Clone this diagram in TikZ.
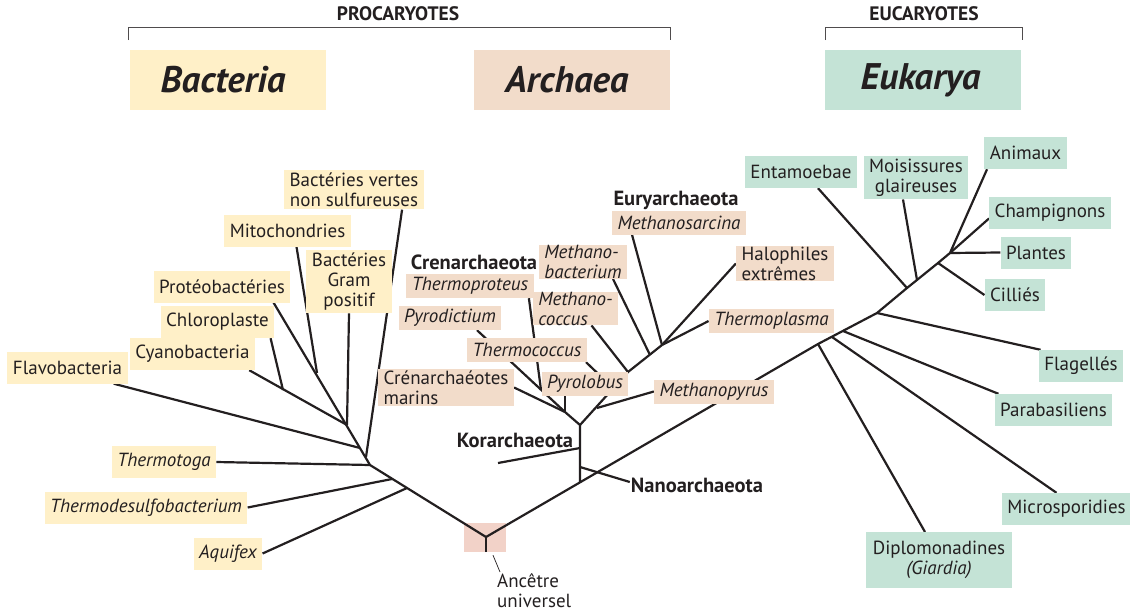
\documentclass[tikz,border=0pt]{standalone}
\usepackage{fontspec}
\setmainfont{PT Sans}
\usetikzlibrary{calc}

\definecolor{bacfill}{HTML}{FFF0C8}
\definecolor{arcfill}{HTML}{F2DCCA}
\definecolor{eukfill}{HTML}{C4E3D6}
\definecolor{ancfill}{HTML}{F2D2C8}
\definecolor{linecol}{HTML}{231F20}

\pgfdeclarelayer{back}
\pgfdeclarelayer{lines}
\pgfsetlayers{back,lines,main}

\begin{document}
\begin{tikzpicture}[x=1pt,y=-1pt,
	font=\fontsize{19}{20}\selectfont,
	trunk/.style={draw=linecol, line width=2.2pt},
	leaf/.style={inner xsep=5.5pt, inner ysep=3pt, minimum height=32pt, text=linecol},
	bac/.style={leaf, fill=bacfill},
	arc/.style={leaf, fill=arcfill, inner ysep=1.5pt, minimum height=24pt},
	euk/.style={leaf, fill=eukfill},
	phylum/.style={text=linecol, inner sep=1pt, font=\fontsize{20.5}{22}\selectfont\bfseries},
	domainbox/.style={minimum width=196pt, minimum height=60pt, text=linecol,
		font=\fontsize{37}{42}\selectfont\bfseries\itshape},
	]
	\useasboundingbox (0,0) rectangle (1130,613);
	
	% 1. 顶部：三个域与括号
	\node[phylum, font=\fontsize{19.5}{21}\selectfont\bfseries] (procar) at (398,14) {PROCARYOTES};
	\node[phylum, font=\fontsize{19.5}{21}\selectfont\bfseries] (eucar) at (924,14) {EUCARYOTES};
	\draw[draw=linecol!80, line width=1pt] (128,40) |- (670,27) -- (670,40);
	\draw[draw=linecol!80, line width=1pt] (825,40) |- (1022,27) -- (1022,40);
	\node[domainbox, fill=bacfill] (bac) at (228,80) {Bacteria\hspace*{10pt}};
	\node[domainbox, fill=arcfill] (arc) at (572,80) {Archaea\hspace*{10pt}};
	\node[domainbox, fill=eukfill] (euk) at (923,80) {Eukarya\hspace*{5pt}};
	
	% 2. 共同祖先
	\coordinate (R) at (486,537);
	\begin{pgfonlayer}{back}
		\node[fill=ancfill, minimum width=42pt, minimum height=29pt] (ancetre) at (485,537.5) {};
	\end{pgfonlayer}
	\node[anchor=north west, align=left, inner sep=1pt, text=linecol] (anctext) at (496,572) {Ancêtre\\universel};
	
	% 3. 细菌的叶子
	\node[bac, align=center] (vertes) at (354,189.5) {Bactéries vertes\\non sulfureuses};
	\node[bac] (mito) at (287.5,230.5) {Mitochondries};
	\node[bac, align=center] (gram) at (349,281.5) {Bactéries\\Gram\\positif};
	\node[bac] (proteo) at (222,286.5) {Protéobactéries};
	\node[bac] (chloro) at (217.5,322) {Chloroplaste};
	\node[bac] (cyano) at (192.5,354) {Cyanobacteria};
	\node[bac] (flavo) at (67.5,367.5) {Flavobacteria};
	\node[bac] (thermotoga) at (164,462) {\itshape Thermotoga};
	\node[bac] (thdesulfo) at (146,507.5) {\itshape Thermodesulfobacterium};
	\node[bac] (aquifex) at (228,553.5) {\itshape Aquifex};
	
	% 4. 古菌的叶子
	\node[phylum] (cren) at (474,262) {Crenarchaeota};
	\node[phylum] (eury) at (676,200) {Euryarchaeota};
	\node[phylum] (kor) at (515,440) {Korarchaeota};
	\node[phylum] (nano) at (697,485) {Nanoarchaeota};
	\node[arc] (thermoproteus) at (470,286) {\itshape Thermoproteus};
	\node[arc] (pyrodictium) at (450,318) {\itshape Pyrodictium};
	\node[arc] (thermococcus) at (527,350) {\itshape Thermococcus};
	\node[arc, align=left] (marins) at (446,387.5) {Crénarchaéotes\\marins};
	\node[arc] (pyrolobus) at (585,383.5) {\itshape Pyrolobus};
	\node[arc, align=left, inner ysep=0pt, font=\fontsize{19}{20}\selectfont\itshape] (methcocc) at (575.5,308.5) {Methano-\\coccus};
	\node[arc, align=left, inner ysep=0pt, font=\fontsize{19}{20}\selectfont\itshape] (methbact) at (583,262) {Methano-\\bacterium};
	\node[arc] (methsarc) at (679,222.5) {\itshape Methanosarcina};
	\node[arc, align=left, inner ysep=1pt] (halo) at (785,263.5) {Halophiles\\extrêmes};
	\node[arc] (thplasma) at (771.5,321) {\itshape Thermoplasma};
	\node[arc] (methpyr) at (714,391.5) {\itshape Methanopyrus};
	
	% 5. 真核生物的叶子
	\node[euk] (entam) at (801,172) {Entamoebae};
	\node[euk, align=center] (moisi) at (916,177.5) {Moisissures\\glaireuses};
	\node[euk] (animaux) at (1025.5,153) {Animaux};
	\node[euk] (champ) at (1050,212.5) {Champignons};
	\node[euk] (plantes) at (1036,252.5) {Plantes};
	\node[euk] (cilies) at (1015,295) {Cilliés};
	\node[euk] (flag) at (1081,366) {Flagellés};
	\node[euk] (parab) at (1053.5,410) {Parabasiliens};
	\node[euk] (micro) at (1066.5,509) {Microsporidies};
	\node[euk, align=center, inner ysep=9pt, inner xsep=6.5pt] (diplo) at (939,560) {Diplomonadines\\{\itshape (Giardia)}};
	
	% 6. 分叉点
	\coordinate (b1) at (407,488);
	\coordinate (b2) at (392,479);
	\coordinate (J1) at (370,465);
	\coordinate (bv) at (366,457);
	\coordinate (J2) at (360,448);
	\coordinate (J3) at (347,425);
	\coordinate (bc) at (283,390);
	\coordinate (J4) at (317,373);
	\coordinate (A0) at (580,482);
	\coordinate (A1) at (580,425);
	\coordinate (K1) at (580,448);
	\coordinate (kor-e) at (498,463);
	\coordinate (N1) at (580,467);
	\coordinate (C1) at (565,412);
	\coordinate (T1) at (541,390);
	\coordinate (M1) at (597,408);
	\coordinate (TC) at (613,388);
	\coordinate (Y0) at (628,372);
	\coordinate (Y1) at (650,355);
	\coordinate (Y2) at (662,345);
	\coordinate (E1) at (818,344);
	\coordinate (E2) at (832,337);
	\coordinate (E3) at (843,331);
	\coordinate (E4) at (877,313);
	\coordinate (E5) at (907,288);
	\coordinate (E6) at (917,280);
	\coordinate (E7) at (938,263);
	\coordinate (E8) at (950,253);
	
	% 7. 连线（放在叶子下面）
	\begin{pgfonlayer}{lines}
		% 细菌
		\draw[trunk] (R) -- (J1) -- ([xshift=-17pt]proteo.south east);
		\draw[trunk] (b1) -- (aquifex.east);
		\draw[trunk] (b2) -- (thdesulfo.east);
		\draw[trunk] (J1) -- (thermotoga.east);
		\draw[trunk] (bv) -- ([xshift=-22pt]vertes.south east);
		\draw[trunk] (J2) -- ([xshift=-14pt]flavo.south east);
		\draw[trunk] (J3) -- (gram.south);
		\draw[trunk] (J3) -- ([xshift=-6pt]cyano.south east);
		\draw[trunk] (bc) -- ([xshift=-4pt]chloro.south east);
		\draw[trunk] (J4) -- ([xshift=9pt]mito.south);
		% 古菌
		\draw[trunk] (A0) -- (A1) -- (C1);
		\draw[trunk] (R |- ancetre.south) -- (R);
		\draw[trunk] (kor-e) -- (K1);
		\draw[trunk] (N1) -- ([yshift=3pt]nano.west);
		\draw[trunk] (C1) -- (marins.east);
		\draw[trunk] (C1) -- (C1 |- pyrolobus.south);
		\draw[trunk] (C1) -- ([xshift=27pt]pyrodictium.south);
		\draw[trunk] (T1) -- ([xshift=-5pt]thermoproteus.south east);
		\draw[trunk] (A1) -- (Y0) -- (Y2);
		\draw[trunk] (M1) -- (methpyr.west);
		\draw[trunk] (TC) -- ([xshift=-1pt]thermococcus.south east);
		\draw[trunk] (Y0) -- ([xshift=16pt]methcocc.south);
		\draw[trunk] (Y1) -- ([xshift=30pt]methbact.south);
		\draw[trunk] (Y2) -- ([xshift=-47pt]methsarc.south);
		\draw[trunk] (Y2) -- (halo.west);
		\draw[trunk] (Y2) -- (thplasma.west);
		% 真核生物
		\draw[trunk] (R) -- (E1) -- (E4) -- (E5) -- (E7) -- (E8) -- ([yshift=-6pt]champ.west);
		\draw[trunk] (E1) -- ([xshift=-14pt]diplo.north);
		\draw[trunk] (E2) -- ([xshift=-10pt]micro.north);
		\draw[trunk] (E3) -- ([xshift=4pt]parab.north west);
		\draw[trunk] (E4) -- ([xshift=2pt]flag.north west);
		\draw[trunk] (E5) -- ([xshift=17pt]entam.south);
		\draw[trunk] (E6) -- ([xshift=-13pt]moisi.south);
		\draw[trunk] (E7) -- (cilies.west);
		\draw[trunk] (E8) -- (plantes.west);
		\draw[trunk] (E8) -- ([xshift=3pt]animaux.south west);
		% 祖先的引线
		\draw[draw=linecol, line width=0.7pt] ([xshift=8pt,yshift=-3pt]ancetre.south) -- ([xshift=4pt]anctext.north west);
	\end{pgfonlayer}
\end{tikzpicture}
\end{document}
